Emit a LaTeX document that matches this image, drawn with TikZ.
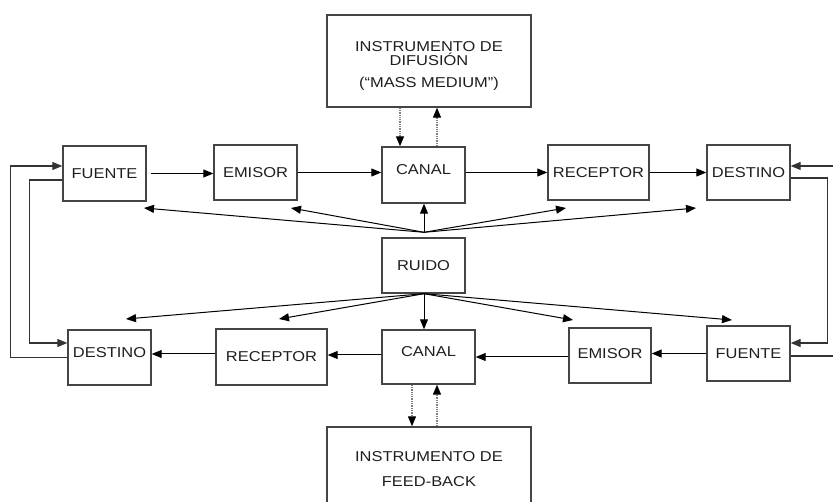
\documentclass[tikz,border=0pt]{standalone}
\usepackage{fontspec}
\setmainfont{Liberation Sans}[FakeStretch=1.15]
\usetikzlibrary{arrows.meta,calc}
\definecolor{boxc}{HTML}{454545}
\definecolor{txtc}{HTML}{1E1E1E}
\begin{document}
\begin{tikzpicture}[x=1pt,y=-1pt,
  box/.style={draw=boxc, line width=1.4pt, fill=white, inner sep=0pt,
    font=\fontsize{14.3}{16}\selectfont, text=txtc, text height=10pt, text depth=0pt},
  txt/.style={inner sep=0pt, font=\fontsize{14.3}{16}\selectfont, text=txtc},
  arr/.style={-{Triangle[length=10pt,width=8pt]}, line width=1pt, draw=black},
  loopl/.style={arr, draw=black!80, line width=1.1pt},
  dots/.style={-{Triangle[length=10pt,width=8pt,color=black]}, line width=1.3pt, draw=gray, densely dotted}]
\path[fill=white] (0,0) rectangle (833,502);
\useasboundingbox (0,0) rectangle (833,502);
\clip (0,0) rectangle (833,502);
% top box
\node[box, minimum width=204pt, minimum height=92pt] (ti) at (429,61) {};
\node[txt, anchor=base] (ti1) at (429,51.3) {INSTRUMENTO DE};
\node[txt, anchor=base] (ti2) at (429,65.5) {DIFUSIÓN};
\node[txt, anchor=base] (ti3) at (429,88) {(“MASS MEDIUM”)};
% bottom box
\node[box, minimum width=204pt, minimum height=83pt] (fb) at (429,468.5) {};
\node[txt, anchor=base] (fb1) at (429,462) {INSTRUMENTO DE};
\node[txt, anchor=base] (fb2) at (429,486) {FEED-BACK};
% top row
\node[box, minimum width=83pt, minimum height=55pt] (f1) at (104.5,173.5) {FUENTE};
\node[box, minimum width=83pt, minimum height=55pt] (e1) at (255.5,172.5) {EMISOR};
\node[box, minimum width=83pt, minimum height=56pt, text depth=10pt] (c1) at (423.5,175) {CANAL};
\node[box, minimum width=101pt, minimum height=55pt] (r1) at (598.5,172.5) {RECEPTOR};
\node[box, minimum width=83pt, minimum height=55pt] (d1) at (748.5,172.5) {DESTINO};
% noise
\node[box, minimum width=83pt, minimum height=55pt] (r) at (423.5,265.5) {RUIDO};
% bottom row
\node[box, minimum width=83pt, minimum height=55pt, text depth=9pt] (d2) at (109.5,357.5) {DESTINO};
\node[box, minimum width=111pt, minimum height=56pt] (r2) at (271.5,357) {RECEPTOR};
\node[box, minimum width=93pt, minimum height=54pt, text depth=10pt] (c2) at (428.5,357) {CANAL};
\node[box, minimum width=82pt, minimum height=55pt, text depth=4pt] (e2) at (610,355.5) {EMISOR};
\node[box, minimum width=83pt, minimum height=55pt] (f2) at (748.5,353.5) {FUENTE};
% top row arrows
\draw[arr] ([xshift=4pt]f1.east) -- (f1.east -| e1.west);
\draw[arr] (e1.east) -- (e1.east -| c1.west);
\draw[arr] (c1.east |- e1.east) -- (e1.east -| r1.west);
\draw[arr] (r1.east) -- (r1.east -| d1.west);
% bottom row arrows
\draw[arr] (f2.west) -- (f2.west -| e2.east);
\draw[arr] ([yshift=-1.5pt]e2.west) -- ([yshift=-1.5pt]e2.west -| c2.east);
\draw[arr] ([yshift=2pt]c2.west) -- ([yshift=2pt]c2.west -| r2.east);
\draw[arr] ([yshift=3pt]r2.west) -- ([yshift=3pt]r2.west -| d2.east);
% dotted links
\coordinate (tdA) at ($(ti.south)+(-29,0)$);
\coordinate (tdB) at ($(ti.south)+(8,0)$);
\draw[dots] (tdA) -- (tdA |- c1.north);
\draw[dots] (tdB |- c1.north) -- (tdB);
\coordinate (bdA) at ($(fb.north)+(-17,0)$);
\coordinate (bdB) at ($(fb.north)+(8,0)$);
\draw[dots] (bdA |- c2.south) -- (bdA);
\draw[dots] (bdB) -- (bdB |- c2.south);
% noise fan
\coordinate (ntop) at ($(r.north)+(0.5,-5)$);
\coordinate (nbot) at ($(r.south)+(0.5,0)$);
\coordinate (tf1) at (144,208);
\coordinate (te1) at (291,208);
\coordinate (tr1) at (566,208);
\coordinate (td1) at (696,208);
\coordinate (td2) at (126,319);
\coordinate (tr2) at (279,319);
\coordinate (te2) at (573,320);
\coordinate (tf2) at (732,320);
\draw[arr] (ntop) -- (ntop |- c1.south);
\draw[arr] (ntop) -- (tf1);
\draw[arr] (ntop) -- (te1);
\draw[arr] (ntop) -- (tr1);
\draw[arr] (ntop) -- (td1);
\draw[arr] (nbot) -- (nbot |- c2.north);
\draw[arr] (nbot) -- (td2);
\draw[arr] (nbot) -- (tr2);
\draw[arr] (nbot) -- (te2);
\draw[arr] (nbot) -- (tf2);
% feedback loops left
\draw[loopl] (d2.west) -- ++(-57,0) |- ([yshift=7.5pt]f1.west);
\draw[loopl] ([yshift=-6.5pt]f1.west) -- ++(-33,0) |- ([yshift=14.5pt]d2.west);
% feedback loops right
\coordinate (rin) at (840,166);
\coordinate (rout) at (840,356);
\draw[loopl] (rin) -- (rin -| d1.east);
\draw[loopl] ([yshift=-5.5pt]d1.east) -- ++(37,0) |- ([yshift=10.5pt]f2.east);
\draw[loopl, -] ([yshift=-2.5pt]f2.east) -- (rout);
\end{tikzpicture}
\end{document}
